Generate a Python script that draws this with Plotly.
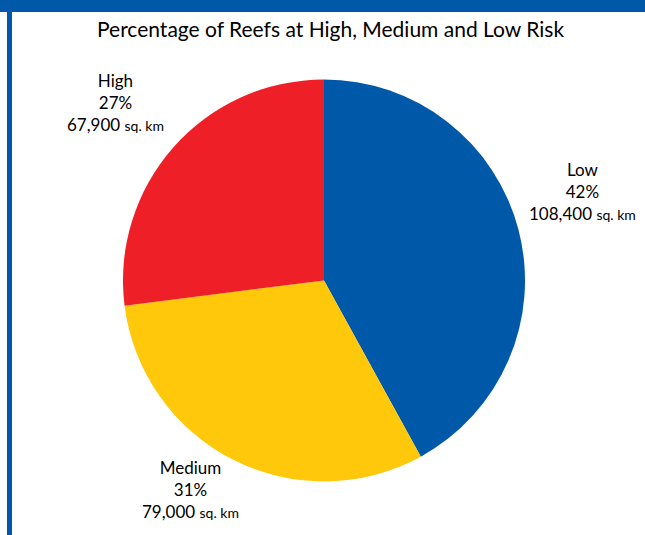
import plotly.graph_objects as go

categories = ["Low", "Medium", "High"]
percent_values = [42, 31, 27]
area_sq_km = [108400, 79000, 67900]
colors = ["#0058A9", "#FFC80B", "#EE1F27"]

W, H = 645, 535
fig = go.Figure()
fig.add_trace(go.Pie(
    labels=categories,
    values=percent_values,
    customdata=area_sq_km,
    sort=False,
    direction="clockwise",
    rotation=0,
    marker=dict(colors=colors, line=dict(width=0)),
    textinfo="none",
    hovertemplate="%{label}: %{value}%<br>%{customdata:,} sq. km<extra></extra>",
    showlegend=False,
    domain=dict(x=[(324 - 201) / W, (324 + 201) / W],
                y=[(535 - 481.5) / H, (535 - 79.5) / H]),
))

label_pos = {"Low": (582, 192), "Medium": (190, 489), "High": (115, 103)}
FONT = "Lato, 'Open Sans', sans-serif"
for cat, pct, val in zip(categories, percent_values, area_sq_km):
    x, y = label_pos[cat]
    txt = f"{cat}<br>{pct}%<br>{val:,} <span style='font-size:14px'>sq. km</span>"
    fig.add_annotation(x=x / W, y=1 - y / H, xref="paper", yref="paper",
                       text=txt, showarrow=False, xanchor="center", yanchor="middle",
                       align="center", font=dict(family=FONT, size=17, color="#000000"))

fig.add_annotation(x=330 / W, y=1 - 29 / H, xref="paper", yref="paper",
                   text="Percentage of Reefs at High, Medium and Low Risk",
                   showarrow=False, xanchor="center", yanchor="middle",
                   font=dict(family=FONT, size=21, color="#000000"))

fig.add_shape(type="rect", xref="paper", yref="paper", x0=0, x1=1,
              y0=1 - 12 / H, y1=1, fillcolor="#0058A9", line=dict(width=0), layer="above")
fig.add_shape(type="rect", xref="paper", yref="paper", x0=7 / W, x1=12 / W,
              y0=0, y1=1, fillcolor="#0058A9", line=dict(width=0), layer="above")

fig.update_layout(width=W, height=H, margin=dict(l=0, r=0, t=0, b=0),
                  paper_bgcolor="white", plot_bgcolor="white")
fig.write_html("out.html", config={"displayModeBar": False},
               post_script="document.body.style.margin='0';document.body.style.overflow='hidden';")
